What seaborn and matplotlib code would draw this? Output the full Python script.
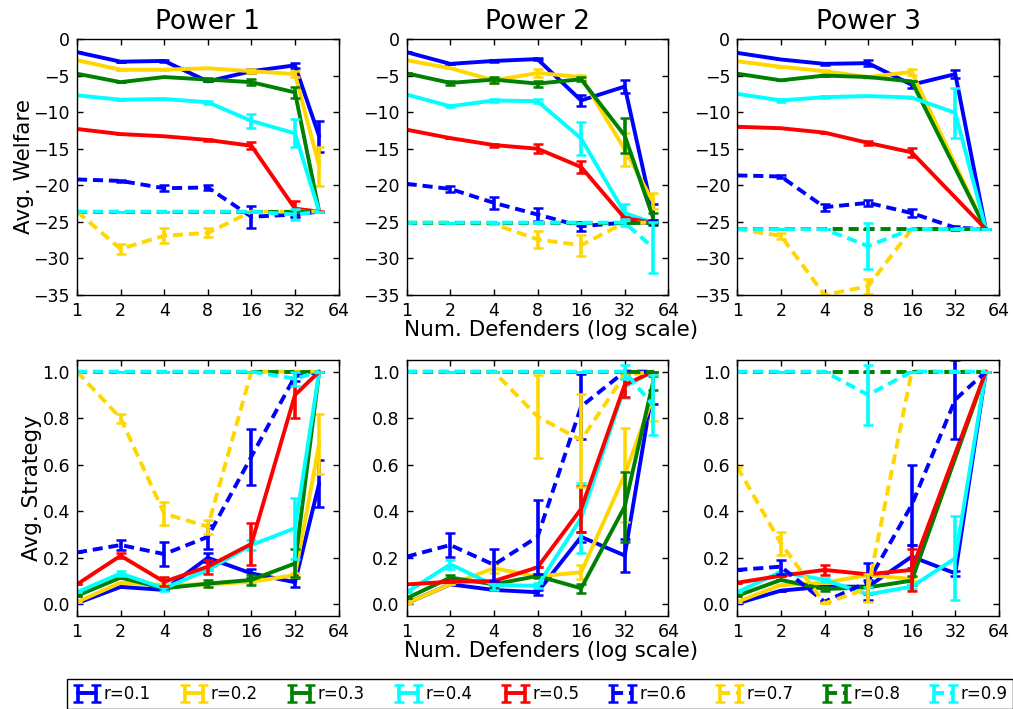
import numpy as np
import pandas as pd
import matplotlib
matplotlib.use("Agg")
import matplotlib.pyplot as plt
import seaborn as sns

# ---------------- data ----------------
R_LABELS = ["r=0.1", "r=0.2", "r=0.3", "r=0.4", "r=0.5", "r=0.6", "r=0.7", "r=0.8", "r=0.9"]
POWER_TITLES = ["Power 1", "Power 2", "Power 3"]
X_TICKS = [1, 2, 4, 8, 16, 32, 64]
X_P1 = [1, 2, 4, 8, 16, 32, 47]
X_P2 = [1, 2, 4, 8, 16, 32, 50]
X_P3 = [1, 2, 4, 8, 16, 32, 52]

WELFARE_P1 = [
    [-1.8, -3.1, -3.0, -5.8, -4.4, -3.6, -13.3],
    [-2.9, -4.2, -4.2, -4.0, -4.4, -4.8, -17.4],
    [-4.75, -5.9, -5.2, -5.55, -5.9, -7.3, -23.6],
    [-7.7, -8.3, -8.2, -8.65, -11.2, -12.9, -23.6],
    [-12.3, -13.0, -13.3, -13.8, -14.6, -23.2, -23.6],
    [-19.2, -19.4, -20.4, -20.3, -24.3, -24.0, -23.6],
    [-23.6, -28.7, -26.9, -26.5, -23.6, -23.6, -23.6],
    [-23.6, -23.6, -23.6, -23.6, -23.6, -23.6, -23.6],
    [-23.6, -23.6, -23.6, -23.6, -23.6, -24.0, -23.6],
]
WELFARE_ERR_P1 = [
    [0, 0, 0.15, 0, 0.3, 0.3, 2.1],
    [0, 0, 0, 0, 0.3, 0.4, 2.7],
    [0, 0, 0, 0.2, 0.4, 0.8, 0],
    [0, 0, 0, 0.2, 1.0, 1.9, 0],
    [0, 0, 0, 0.15, 0.5, 1.0, 0.1],
    [0, 0.15, 0.4, 0.4, 1.5, 0.3, 0],
    [0, 0.7, 1.0, 0.6, 0, 0, 0],
    [0, 0, 0, 0, 0, 0, 0],
    [0, 0, 0, 0, 0, 0.8, 0],
]
WELFARE_P2 = [
    [-1.8, -3.4, -3.0, -2.75, -8.4, -6.5, -23.8],
    [-2.9, -4.0, -5.65, -4.65, -5.2, -15.1, -22.2],
    [-4.7, -6.0, -5.55, -6.1, -5.5, -13.2, -24.3],
    [-7.6, -9.2, -8.4, -8.5, -13.6, -23.8, -25.1],
    [-12.4, -13.55, -14.5, -15.0, -17.5, -24.5, -25.1],
    [-19.8, -20.5, -22.4, -24.0, -25.6, -25.1, -25.1],
    [-25.1, -25.1, -25.3, -27.4, -28.2, -25.1, -25.1],
    [-25.1, -25.1, -25.1, -25.1, -25.1, -25.1, -25.1],
    [-25.1, -25.1, -25.1, -25.1, -25.1, -25.1, -28.5],
]
WELFARE_ERR_P2 = [
    [0, 0, 0.1, 0.1, 0.7, 0.9, 1.3],
    [0, 0, 0.4, 0.6, 0.3, 2.3, 1.1],
    [0, 0.3, 0.4, 0.4, 0.3, 2.4, 0.5],
    [0, 0.15, 0.15, 0.3, 2.2, 1.2, 0],
    [0, 0, 0.2, 0.6, 0.8, 0.1, 0],
    [0, 0.4, 0.8, 0.9, 0.6, 0, 0.3],
    [0, 0, 0, 1.2, 1.4, 0, 0],
    [0, 0, 0, 0, 0, 0, 0],
    [0, 0, 0, 0, 0, 0.5, 3.5],
]
WELFARE_P3 = [
    [-1.9, -2.8, -3.4, -3.3, -6.25, -4.8, -26.0],
    [-3.05, -3.8, -4.4, -5.2, -4.5, None, -26.0],
    [-4.75, -5.65, -5.0, -5.2, -5.8, None, -26.0],
    [-7.5, -8.4, -7.95, -7.8, -8.0, -10.1, -26.0],
    [-12.0, -12.2, -12.8, -14.2, -15.5, None, -26.0],
    [-18.65, -18.8, -23.0, -22.4, -23.8, -25.8, -26.0],
    [-26.0, -26.9, -35.0, -33.8, -26.0, -26.0, -26.0],
    [-26.0, -26.0, -26.0, -26.0, -26.0, -26.0, -26.0],
    [-26.0, -26.0, -26.0, -28.3, -26.0, -26.0, -26.0],
]
WELFARE_ERR_P3 = [
    [0, 0, 0.15, 0.45, 0.5, 0.6, 0],
    [0, 0, 0.15, 0.15, 0.4, 0, 0],
    [0, 0, 0, 0, 0, 0, 0],
    [0, 0.15, 0.1, 0, 0, 3.4, 0],
    [0, 0, 0, 0.3, 0.6, 0, 0],
    [0, 0.15, 0.5, 0.4, 0.5, 0.3, 0],
    [0, 0.4, 0, 1.0, 0, 0, 0],
    [0, 0, 0, 0, 0, 0, 0],
    [0, 0, 0, 3.1, 0, 0, 0],
]

STRATEGY_P1 = [
    [0.005, 0.075, 0.062, 0.2, 0.133, 0.095, 0.52],
    [0.01, 0.093, 0.083, 0.086, 0.097, 0.126, 0.69],
    [0.037, 0.115, 0.069, 0.089, 0.105, 0.176, 1.0],
    [0.052, 0.133, 0.069, 0.148, 0.255, 0.327, 1.0],
    [0.086, 0.209, 0.097, 0.162, 0.26, 0.9, 1.0],
    [0.223, 0.255, 0.216, 0.29, 0.635, 0.98, 1.0],
    [1.0, 0.8, 0.39, 0.334, 1.0, 1.0, 1.0],
    [1.0, 1.0, 1.0, 1.0, 1.0, 1.0, 1.0],
    [1.0, 1.0, 1.0, 1.0, 1.0, 0.97, 1.0],
]
STRATEGY_ERR_P1 = [
    [0, 0, 0, 0.02, 0.02, 0.02, 0.1],
    [0, 0, 0, 0.01, 0, 0.01, 0.13],
    [0, 0, 0, 0.015, 0.02, 0.06, 0],
    [0, 0.01, 0.01, 0, 0.02, 0.13, 0],
    [0, 0.01, 0.02, 0.03, 0.09, 0.1, 0],
    [0, 0.02, 0.05, 0.05, 0.12, 0.02, 0],
    [0, 0.02, 0.05, 0.03, 0, 0, 0],
    [0, 0, 0, 0, 0, 0, 0],
    [0, 0, 0, 0, 0, 0.03, 0],
]
STRATEGY_P2 = [
    [0.005, 0.086, 0.062, 0.052, 0.29, 0.21, 0.93],
    [0.005, 0.086, 0.155, 0.12, 0.138, 0.556, 0.89],
    [0.026, 0.115, 0.086, 0.122, 0.069, 0.42, 0.95],
    [0.052, 0.172, 0.083, 0.08, 0.37, 0.935, 1.0],
    [0.086, 0.097, 0.1, 0.159, 0.41, 0.943, 1.0],
    [0.205, 0.255, 0.17, 0.29, 0.85, 1.0, 1.0],
    [1.0, 1.0, 1.0, 0.807, 0.706, 0.986, 1.0],
    [1.0, 1.0, 1.0, 1.0, 1.0, 1.0, 1.0],
    [1.0, 1.0, 1.0, 1.0, 1.0, 1.0, 0.857],
]
STRATEGY_ERR_P2 = [
    [0, 0, 0, 0.01, 0.02, 0.07, 0.07],
    [0, 0, 0.02, 0, 0.03, 0.2, 0.1],
    [0, 0.01, 0.01, 0.01, 0.02, 0.15, 0.03],
    [0, 0.02, 0.02, 0.01, 0.15, 0.05, 0],
    [0, 0, 0, 0, 0.1, 0.05, 0],
    [0, 0.05, 0.07, 0.16, 0.14, 0, 0],
    [0, 0, 0, 0.18, 0.2, 0.01, 0],
    [0, 0, 0, 0, 0, 0, 0],
    [0, 0, 0, 0, 0, 0.03, 0.13],
]
STRATEGY_P3 = [
    [0.004, 0.059, 0.076, 0.076, 0.205, 0.133, 1.0],
    [0.011, 0.083, 0.093, 0.126, 0.109, None, 1.0],
    [0.037, 0.105, 0.066, 0.073, 0.102, None, 1.0],
    [0.052, 0.14, 0.105, 0.043, 0.076, 0.198, 1.0],
    [0.093, 0.123, 0.148, 0.129, 0.148, None, 1.0],
    [0.148, 0.162, 0.011, 0.097, 0.427, 0.88, 1.0],
    [0.59, 0.262, 0.004, 0.069, 1.0, 1.0, 1.0],
    [1.0, 1.0, 1.0, 1.0, 1.0, 1.0, 1.0],
    [1.0, 1.0, 1.0, 0.9, 1.0, 1.0, 1.0],
]
STRATEGY_ERR_P3 = [
    [0, 0, 0, 0.03, 0.05, 0.01, 0],
    [0, 0, 0, 0, 0.01, 0, 0],
    [0, 0, 0.01, 0, 0.02, 0, 0],
    [0, 0, 0.01, 0.03, 0.01, 0.18, 0],
    [0, 0, 0.02, 0, 0.09, 0, 0],
    [0, 0.03, 0, 0.08, 0.17, 0.17, 0],
    [0, 0.05, 0, 0.06, 0, 0, 0],
    [0, 0, 0, 0, 0, 0, 0],
    [0, 0, 0, 0.13, 0, 0, 0],
]

# ---------------- style ----------------
sns.set_style("ticks")
plt.rcParams.update({
    "font.family": ["DejaVu Sans"],
    "text.color": "black",
    "axes.labelcolor": "black",
    "xtick.direction": "in",
    "ytick.direction": "in",
    "xtick.top": True,
    "ytick.right": True,
    "xtick.major.size": 4.5,
    "ytick.major.size": 4.5,
    "xtick.major.width": 1.0,
    "ytick.major.width": 1.0,
    "xtick.color": "black",
    "ytick.color": "black",
    "xtick.labelcolor": "black",
    "ytick.labelcolor": "black",
    "xtick.labelsize": 12.5,
    "ytick.labelsize": 12.5,
    "axes.edgecolor": "black",
    "axes.linewidth": 1.0,
    "lines.dashed_pattern": [2.6, 1.5],
    "lines.scale_dashes": True,
})

COLORS = ["#0000ff", "#ffd700", "#008000", "#00ffff", "#ff0000",
          "#0000ff", "#ffd700", "#008000", "#00ffff"]
STYLES = ["-"] * 5 + ["--"] * 4
LW = 2.8

fig = plt.figure(figsize=(10.13, 7.09), dpi=100)
W, H = 1013.0, 709.0
lefts = [77 / W, 406.7 / W, 737.3 / W]
width = 261.6 / W
height = 256 / H
bottoms = [1 - 295 / H, 1 - 616 / H]

panels = [
    [(X_P1, WELFARE_P1, WELFARE_ERR_P1), (X_P2, WELFARE_P2, WELFARE_ERR_P2), (X_P3, WELFARE_P3, WELFARE_ERR_P3)],
    [(X_P1, STRATEGY_P1, STRATEGY_ERR_P1), (X_P2, STRATEGY_P2, STRATEGY_ERR_P2), (X_P3, STRATEGY_P3, STRATEGY_ERR_P3)],
]


def draw(ax, xs, means, errs):
    for i, (m, e) in enumerate(zip(means, errs)):
        rows = [(x, y, er) for x, y, er in zip(xs, m, e) if y is not None]
        df = pd.DataFrame(rows, columns=["x", "y", "e"])
        sns.lineplot(data=df, x="x", y="y", ax=ax, color=COLORS[i], linewidth=LW,
                     linestyle=STYLES[i], errorbar=None, sort=False, legend=False)
        ax.errorbar(df["x"], df["y"], yerr=df["e"], fmt="none", ecolor=COLORS[i],
                    elinewidth=2.6, capsize=3.5, capthick=1.8)


for row in range(2):
    for col in range(3):
        ax = fig.add_axes([lefts[col], bottoms[row], width, height])
        xs, means, errs = panels[row][col]
        draw(ax, xs, means, errs)
        ax.set_xscale("log", base=2)
        ax.set_xlim(1, 64)
        ax.set_xticks(X_TICKS)
        ax.set_xticklabels([str(t) for t in X_TICKS])
        ax.xaxis.set_minor_locator(matplotlib.ticker.NullLocator())
        ax.set_xlabel("")
        ax.set_ylabel("")
        ax.tick_params(axis="both", which="major", pad=5)
        for s in ax.spines.values():
            s.set_visible(True)
            s.set_color("black")
        if row == 0:
            ax.set_ylim(-35, 0)
            ax.set_yticks(np.arange(-35, 1, 5))
            ax.set_title(POWER_TITLES[col], fontsize=19, pad=7)
            if col == 0:
                ax.set_ylabel("Avg. Welfare", fontsize=15.5, labelpad=0)
        else:
            ax.set_ylim(-0.05, 1.05)
            ax.set_yticks([0.0, 0.2, 0.4, 0.6, 0.8, 1.0])
            ax.set_yticklabels(["0.0", "0.2", "0.4", "0.6", "0.8", "1.0"])
            if col == 0:
                ax.set_ylabel("Avg. Strategy", fontsize=15.5, labelpad=0)

fig.text(551 / W, 1 - 330 / H, "Num. Defenders (log scale)", ha="center", va="center", fontsize=15.5)
fig.text(551 / W, 1 - 651 / H, "Num. Defenders (log scale)", ha="center", va="center", fontsize=15.5)

# legend handles built from errorbar containers on a hidden axes
dummy = fig.add_axes([0, 0, 0.001, 0.001])
handles = []
for i in range(9):
    h = dummy.errorbar([0, 1], [0, 0], yerr=[0.1, 0.1], color=COLORS[i], ecolor=COLORS[i],
                       linestyle=STYLES[i], linewidth=LW, elinewidth=2.6, capsize=3.5, capthick=1.8)
    handles.append(h)
dummy.set_visible(False)

leg = fig.legend(handles, R_LABELS, loc="center", bbox_to_anchor=(540 / W, 1 - 694 / H),
                 ncol=9, fontsize=12, numpoints=2, handlelength=1.7, handletextpad=0.15,
                 columnspacing=1.75, frameon=True, fancybox=False, borderpad=0.35,
                 borderaxespad=0.0)
leg.get_frame().set_edgecolor("black")
leg.get_frame().set_linewidth(1.0)
leg.get_frame().set_alpha(1)

fig.savefig("out.png", dpi=100, facecolor="white")
